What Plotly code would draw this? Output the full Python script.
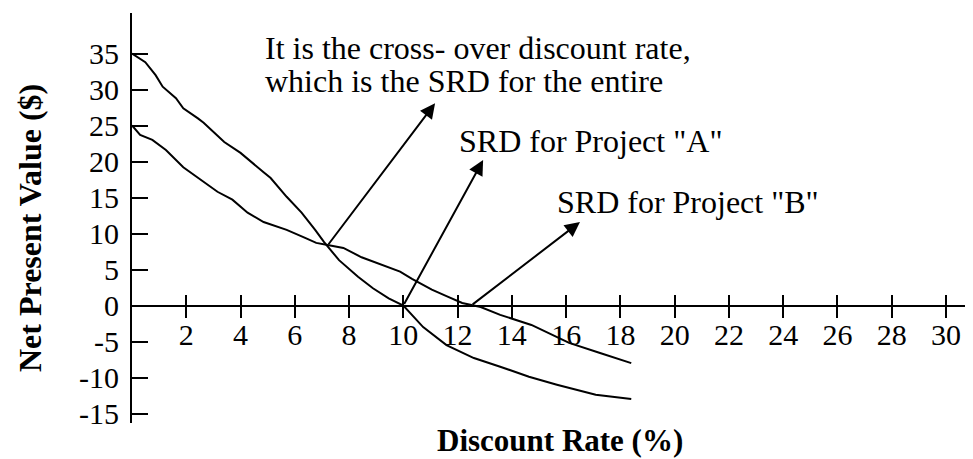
import plotly.graph_objects as go

# Net present value profiles (discount rate in %, NPV in $)
rate_a = [0, 0.49, 0.87, 1.13, 1.62, 1.89, 2.43, 2.64, 3.40, 4.0, 4.85, 5.11, 5.70,
          6.25, 6.75, 7.08, 7.63, 8.33, 8.88, 9.46, 10.0, 10.73, 11.59, 12.60,
          13.57, 14.63, 15.66, 17.09, 18.40]
npv_a = [35.0, 33.8, 32.0, 30.4, 28.8, 27.4, 26.0, 25.4, 22.7, 21.2, 18.5, 17.7, 15.1,
         12.9, 10.5, 8.8, 6.3, 4.0, 2.4, 1.0, 0.0, -3.0, -5.5, -7.3,
         -8.5, -9.9, -11.0, -12.4, -13.0]

rate_b = [0, 0.30, 0.75, 1.25, 1.89, 2.72, 3.15, 3.70, 4.26, 4.85, 5.70, 6.38, 6.79,
          7.21, 7.79, 8.46, 9.04, 9.88, 10.32, 11.05, 11.59, 12.17, 12.85, 13.57,
          14.72, 15.47, 16.11, 17.25, 18.40]
npv_b = [25.0, 23.7, 23.0, 21.6, 19.2, 17.0, 15.8, 14.7, 12.9, 11.6, 10.5, 9.4, 8.7,
         8.4, 8.0, 6.7, 5.9, 4.7, 3.7, 2.2, 1.3, 0.35, -0.2, -1.3,
         -2.7, -4.1, -5.2, -6.6, -8.0]

x_ticks = [2, 4, 6, 8, 10, 12, 14, 16, 18, 20, 22, 24, 26, 28, 30]
y_ticks = [-15, -10, -5, 0, 5, 10, 15, 20, 25, 30, 35]
y_tick_text = [str(v) for v in y_ticks]

# key rates pointed at by the arrows
cross_rate, cross_npv = 7.2, 8.3
srd_a = 10.0
srd_b = 12.5

FONT = "Liberation Serif"
X_RANGE = [0, 30.7]
Y_RANGE = [-16.32, 40.63]
ZERO_POS = (0 - Y_RANGE[0]) / (Y_RANGE[1] - Y_RANGE[0])

line_style = dict(color="black", width=2)

fig = go.Figure()
fig.add_trace(go.Scatter(x=rate_a, y=npv_a, mode="lines", line=line_style,
                         xaxis="x", yaxis="y", showlegend=False, hoverinfo="skip"))
fig.add_trace(go.Scatter(x=rate_b, y=npv_b, mode="lines", line=line_style,
                         xaxis="x2", yaxis="y", showlegend=False, hoverinfo="skip"))

tick_font = dict(family=FONT, size=30, color="black")

fig.update_layout(
    width=973, height=459,
    margin=dict(l=132, r=8, t=13, b=36),
    paper_bgcolor="white", plot_bgcolor="white",
    xaxis=dict(range=X_RANGE, anchor="free", position=ZERO_POS,
               showline=True, linecolor="black", linewidth=2,
               ticks="outside", ticklen=11, tickwidth=2, tickcolor="black",
               tickvals=x_ticks, tickfont=tick_font, ticklabelstandoff=-9,
               showgrid=False, zeroline=False),
    xaxis2=dict(overlaying="x", matches="x", anchor="free", position=ZERO_POS,
                showline=False, ticks="inside", ticklen=11, tickwidth=2,
                tickcolor="black", tickvals=x_ticks, showticklabels=False,
                showgrid=False, zeroline=False),
    yaxis=dict(range=Y_RANGE, showline=True, linecolor="black", linewidth=2,
               ticks="inside", ticklen=16, tickwidth=2, tickcolor="black",
               tickvals=y_ticks, ticktext=y_tick_text, tickfont=tick_font,
               ticklabelstandoff=5, showgrid=False, zeroline=False),
)

note_font = dict(family=FONT, size=32, color="black")

notes = [
    ("It is the cross- over discount rate,", 4.83, 35.7),
    ("which is the SRD for the entire", 4.83, 31.2),
    ('SRD for Project "A"', 11.98, 22.8),
    ('SRD for Project "B"', 15.59, 14.4),
]
for text, nx, ny in notes:
    fig.add_annotation(x=nx, y=ny, xref="x", yref="y", text=text, showarrow=False,
                       xanchor="left", yanchor="middle", font=note_font)

arrows = [
    ((cross_rate, cross_npv), (11.17, 28.1)),
    ((srd_a, 0), (12.94, 20.2)),
    ((srd_b, 0), (16.51, 11.6)),
]
for (tx, ty), (hx, hy) in arrows:
    fig.add_annotation(x=hx, y=hy, ax=tx, ay=ty, xref="x", yref="y",
                       axref="x", ayref="y", text="", showarrow=True,
                       arrowhead=2, arrowsize=1.5, arrowwidth=2,
                       arrowcolor="black", standoff=0, startstandoff=0)

fig.add_annotation(x=(560 - 132) / 833, y=(423 - 440) / 410, xref="paper", yref="paper",
                   text="Discount Rate (%)", showarrow=False,
                   font=dict(family=FONT, size=31, color="black", weight="bold"),
                   xanchor="center", yanchor="middle")
fig.add_annotation(x=(30 - 132) / 833, y=(423 - 228) / 410, xref="paper", yref="paper",
                   text="Net Present Value ($)", showarrow=False,
                   font=dict(family=FONT, size=32, color="black", weight="bold"),
                   textangle=-90, xanchor="center", yanchor="middle")

fig.write_html("out.html")
